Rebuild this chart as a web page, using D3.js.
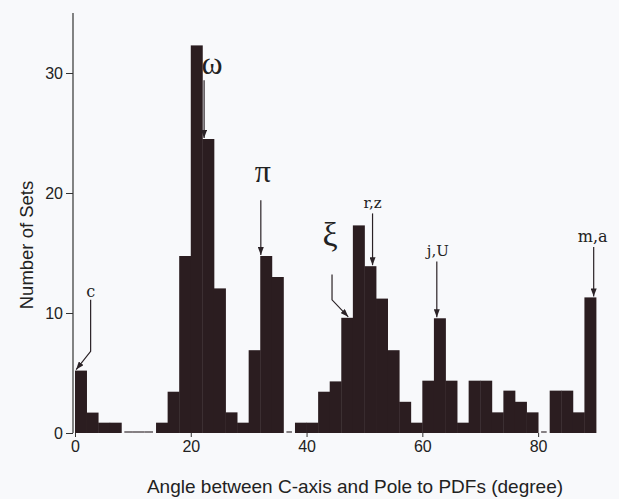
<!DOCTYPE html>
<html>
<head>
<meta charset="utf-8">
<script src="https://cdn.jsdelivr.net/npm/d3@7"></script>
<style>
  html, body { margin: 0; padding: 0; background: #f8f9fb; }
  svg { display: block; }
</style>
</head>
<body>
<div id="chart"></div>
<script>
// histogram bins, 2 degrees wide, start angle of each bin
var binStarts = d3.range(0, 90, 2);
var counts = [
  5.2, 1.7, 0.86, 0.86, 0, 0, 0, 0.86, 3.44, 14.75,
  32.3, 24.5, 12.05, 1.72, 0.86, 6.9, 14.75, 13.0, 0, 0.86,
  0.86, 3.44, 4.3, 9.6, 17.3, 13.9, 11.2, 6.9, 2.6, 0.86,
  4.36, 9.56, 4.36, 0.86, 4.36, 4.36, 1.72, 3.53, 2.6, 1.72,
  0, 3.53, 3.53, 1.72, 11.3
];
var xTicks = [0, 20, 40, 60, 80];
var yTicks = [0, 10, 20, 30];

// annotations: label, arrow tip (deg, value), arrow start (deg, value)
var noteLabels = ["c", "ω", "π", "ξ", "r,z", "j,U", "m,a"];
var noteTipDeg = [0.2, 22.3, 32.1, 47.2, 51.4, 62.5, 89.6];
var noteTipVal = [5.2, 24.5, 14.75, 9.6, 13.9, 9.56, 11.3];
var noteTopDeg = [2.7, 22.3, 32.1, 44.4, 51.4, 62.5, 89.6];
var noteTopVal = [11.1, 29.4, 19.4, 13.2, 18.3, 14.3, 15.5];
var noteBendVal = [6.8, null, null, 11.1, null, null, null];

var width = 619, height = 499;
var x = d3.scaleLinear().domain([0, 90]).range([75, 596]);
var y = d3.scaleLinear().domain([0, 35]).range([433, 13]);

var svg = d3.select("#chart").append("svg")
    .attr("width", width)
    .attr("height", height);

svg.append("rect")
    .attr("width", width)
    .attr("height", height)
    .attr("fill", "#f8f9fb");

var defs = svg.append("defs");
defs.append("marker")
    .attr("id", "head")
    .attr("viewBox", "0 0 8 6")
    .attr("refX", 8).attr("refY", 3)
    .attr("markerWidth", 8).attr("markerHeight", 6)
    .attr("markerUnits", "userSpaceOnUse")
    .attr("orient", "auto")
  .append("path")
    .attr("d", "M0,0L8,3L0,6Z")
    .attr("fill", "#2a2226");

var ink = "#2b1d20";

// bars
var bins = binStarts.map(function(b, i) { return { x0: b, x1: b + 2, v: counts[i], i: i }; });

svg.append("g").selectAll("rect.bar")
  .data(bins.filter(function(d) { return d.v > 0; }))
  .enter().append("rect")
    .attr("class", "bar")
    .attr("x", function(d) { return x(d.x0); })
    .attr("width", function(d) { return x(d.x1) - x(d.x0) + 0.4; })
    .attr("y", function(d) { return y(d.v); })
    .attr("height", function(d) { return y(0) - y(d.v); })
    .attr("fill", ink);

// empty bins drawn as a thin line on the baseline
svg.append("g").selectAll("line.zero")
  .data(bins.filter(function(d) { return d.v === 0; }))
  .enter().append("line")
    .attr("x1", function(d) { return x(d.x0) + (d.i > 0 && counts[d.i - 1] > 0 ? 3 : 0); })
    .attr("x2", function(d) { return x(d.x1) - (counts[d.i + 1] > 0 ? 3 : 0); })
    .attr("y1", y(0) - 1)
    .attr("y2", y(0) - 1)
    .attr("stroke", "#3a3035")
    .attr("stroke-width", 1.2);

// y axis
var yAxis = d3.axisLeft(y).tickValues(yTicks).tickSize(7).tickPadding(3);
var gy = svg.append("g")
    .attr("transform", "translate(73,0)")
    .call(yAxis);
gy.select(".domain").attr("stroke", "#333").attr("stroke-width", 1.2)
    .attr("d", "M0," + y(35) + "V" + y(0));
gy.selectAll(".tick line").attr("stroke", "#333");
gy.selectAll("text")
    .attr("font-family", "'Liberation Sans', Arial, sans-serif")
    .attr("font-size", 16)
    .attr("fill", "#222");

// x axis: ticks only
var xAxis = d3.axisBottom(x).tickValues(xTicks).tickSize(4).tickPadding(4);
var gx = svg.append("g")
    .attr("transform", "translate(0," + y(0) + ")")
    .call(xAxis);
gx.select(".domain").remove();
gx.selectAll(".tick line").attr("stroke", "#333");
gx.selectAll("text")
    .attr("font-family", "'Liberation Sans', Arial, sans-serif")
    .attr("font-size", 16)
    .attr("fill", "#222");

// axis titles
svg.append("text")
    .attr("x", 355)
    .attr("y", 493)
    .attr("text-anchor", "middle")
    .attr("font-family", "'Liberation Sans', Arial, sans-serif")
    .attr("font-size", 19)
    .attr("fill", "#222")
    .text("Angle between C-axis and Pole to PDFs (degree)");

svg.append("text")
    .attr("transform", "translate(33,245) rotate(-90)")
    .attr("text-anchor", "middle")
    .attr("font-family", "'Liberation Sans', Arial, sans-serif")
    .attr("font-size", 18.5)
    .attr("fill", "#222")
    .text("Number of Sets");

// annotation arrows
var notes = noteLabels.map(function(l, i) {
  return { label: l, tx: noteTipDeg[i], tv: noteTipVal[i], sx: noteTopDeg[i], sv: noteTopVal[i], bv: noteBendVal[i] };
});

var lineGen = d3.line();
svg.append("g").selectAll("path.arrow")
  .data(notes)
  .enter().append("path")
    .attr("d", function(d) {
      var pts = [[x(d.sx), y(d.sv)]];
      if (d.bv !== null) pts.push([x(d.sx), y(d.bv)]);
      pts.push([x(d.tx), y(d.tv) - 1]);
      return lineGen(pts);
    })
    .attr("fill", "none")
    .attr("stroke", "#2a2226")
    .attr("stroke-width", 1.2)
    .attr("marker-end", "url(#head)");

// label sizes and placement relative to the arrow start
var greek = { "ω": true, "π": true, "ξ": true };
var noteSize = { "c": 16, "ω": 32, "π": 32, "ξ": 34, "r,z": 15, "j,U": 15, "m,a": 16 };
var noteLift = { "c": 3, "ω": 6, "π": 18, "ξ": 29, "r,z": 5, "j,U": 5, "m,a": 5 };
var noteShift = { "c": 0, "ω": 8, "π": 2, "ξ": -2, "r,z": 0, "j,U": 1, "m,a": -1 };

svg.append("g").selectAll("text.note")
  .data(notes)
  .enter().append("text")
    .attr("x", function(d) { return x(d.sx) + noteShift[d.label]; })
    .attr("y", function(d) { return y(d.sv) - noteLift[d.label]; })
    .attr("text-anchor", "middle")
    .attr("font-family", function(d) {
      return greek[d.label] ? "'Liberation Serif', 'Times New Roman', serif" : "'DejaVu Serif', 'Liberation Serif', serif";
    })
    .attr("font-size", function(d) { return noteSize[d.label]; })
    .attr("fill", "#222")
    .text(function(d) { return d.label; });
</script>
</body>
</html>
